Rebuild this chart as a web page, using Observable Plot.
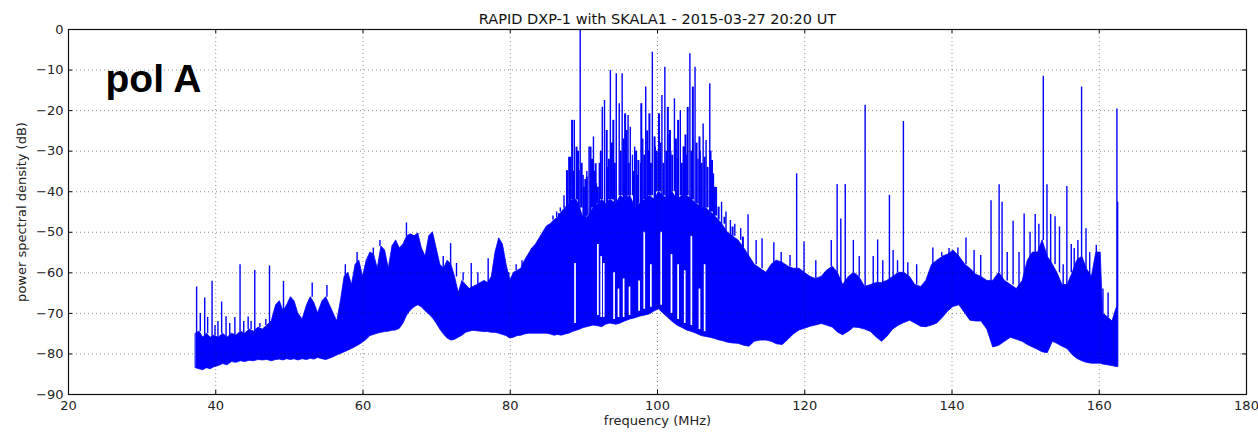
<!DOCTYPE html>
<html><head><meta charset="utf-8">
<script src="https://cdn.jsdelivr.net/npm/d3@7"></script>
<script src="https://cdn.jsdelivr.net/npm/@observablehq/plot@0.6"></script>
<style>body{margin:0;background:#fff;} #chart svg{display:block;}</style>
</head><body><div id="chart"></div>
<script>
const title = "RAPID DXP-1 with SKALA1 - 2015-03-27 20:20 UT";
const xLabel = "frequency (MHz)";
const yLabel = "power spectral density (dB)";
const panelLabel = "pol A";
const xTicks = [20, 40, 60, 80, 100, 120, 140, 160, 180];
const yTicks = [0, -10, -20, -30, -40, -50, -60, -70, -80, -90];

// dense noise band: frequency (MHz), bottom and top of the solid blue mass (dB)
const bandFreq = [37.3,37.8,38.3,38.8,39.3,39.8,40.4,41,41.6,42.2,42.8,43.4,44,44.6,45.2,45.8,46.4,47,47.6,48.2,48.7,49.2,49.7,50.2,50.7,51.2,51.8,52.4,52.9,53.4,53.9,54.5,55,55.5,56,56.5,57,57.5,58,58.5,59,59.5,60,60.5,61,61.5,62,62.5,63,63.5,64,64.5,65,65.5,66,66.5,67,67.5,68,68.5,69,69.5,70,70.5,71,71.5,72,72.5,73,73.5,74,74.5,75,75.5,76,76.5,77,77.5,78,78.5,79,79.5,80,80.5,81,81.5,82,82.5,83,83.5,84,84.5,85,85.5,86,86.5,87,87.5,88,88.5,89,89.5,90,90.7,91.3,92,92.5,93,93.6,94.4,95,95.6,96.3,97,97.6,98.4,99,99.6,100.2,100.8,101.4,102,102.7,103.4,104,104.7,105.3,106,106.6,107.2,107.8,108.3,108.8,109.5,110.2,111,111.8,112.5,113.2,114,114.8,115.5,116.2,117,117.8,118.5,119.3,120,120.8,121.5,122.3,123,123.8,124.5,125.2,126,126.7,127.4,128.2,129,129.8,130.5,131.2,132,132.8,133.5,134.3,135,135.8,136.5,137.3,138,138.8,139.5,140.2,141,141.8,142.5,143.3,144,144.8,145.6,146.4,147.2,148,148.8,149.6,150.3,151,151.7,152.3,153,153.7,154.3,155,155.7,156.4,157,157.7,158.3,159,159.6,160.2,160.5,161.2,161.8,162.3,162.6];
const bandLow = [-83.5,-83.8,-84,-83.5,-83.8,-83.3,-83,-82.5,-82.8,-82,-82.2,-81.8,-82,-81.7,-81.8,-81.5,-81.6,-81.5,-81.8,-81.5,-81.4,-81.6,-81.3,-81.5,-81.3,-81.6,-81.3,-81.5,-81.2,-81.4,-81,-81.3,-81.5,-81.2,-80.8,-80.4,-80,-79.6,-79.2,-78.8,-78.3,-77.8,-77.2,-76.5,-75.6,-75.3,-75,-74.8,-74.6,-74.5,-74.3,-74.2,-73.8,-72.5,-70.5,-69.3,-68.5,-68,-68.5,-69.5,-70.3,-71.2,-72.5,-74,-75.2,-76.2,-76.7,-76.5,-76,-75.5,-74.8,-74.5,-74.3,-74.4,-74.5,-74.6,-74.6,-74.8,-74.8,-75,-75.3,-75.6,-76.2,-76,-75.6,-75.5,-75.2,-75,-75,-75,-75,-75,-75,-75.2,-75.5,-75.3,-75.5,-75.2,-75,-74.6,-74.3,-74,-73.6,-73.3,-73,-73.2,-73.4,-72.8,-72.5,-72.8,-72.5,-72,-71.5,-71.2,-70.8,-70.5,-70.2,-69.5,-69,-70,-71,-72,-73,-73.6,-74.2,-74.6,-75,-75.6,-75.8,-76,-76.3,-76.6,-76.8,-77.2,-77.4,-77.5,-78,-78.2,-77,-76.7,-76.7,-77,-77.6,-77.8,-76.5,-75.2,-74.2,-73.8,-73.3,-73,-72.6,-73,-73.5,-74.7,-75.4,-74.5,-73.5,-73.6,-74,-74.6,-76,-77,-75.8,-74,-73,-72.4,-71.8,-72.5,-73.3,-73.4,-73,-72.5,-71,-69.5,-68.4,-68,-70,-71.8,-72,-72,-74,-78.4,-78,-77,-76,-76.5,-77,-77.8,-78.4,-79,-79.6,-79.8,-77,-77.5,-78.2,-78.8,-80.3,-81.2,-81.8,-82.2,-82.4,-82.4,-82.4,-82.6,-82.8,-83,-83.2,-83.2];
const bandHigh = [-75,-74.5,-76,-75,-76,-75.5,-76,-75,-76,-75,-75.5,-74.5,-75,-74,-74.5,-73.5,-74,-73,-72,-68,-67,-69.5,-68,-66,-67,-70,-71.5,-68,-66,-67.5,-70,-67,-66,-68,-70,-72,-67,-61,-60,-63,-58,-57,-61,-57,-55,-55.5,-59,-53.5,-54.5,-59,-53.5,-52,-54,-53,-51,-50.5,-51,-50.3,-54,-56,-51,-50,-54,-58,-59,-57,-58,-61,-65,-62,-63,-64,-63.5,-63,-62.5,-62,-62.5,-61,-55,-51.5,-53,-58,-62,-60,-59.5,-59,-57,-55.5,-54,-53,-51.5,-50,-48.5,-48,-47,-46.5,-45,-44,-43,-42,-42,-44,-47,-46,-44,-43,-42,-43,-42,-43,-41,-42,-41,-44,-43,-42,-41,-42,-40,-41,-42,-40,-42,-41,-41,-42,-43,-44,-44,-45,-46,-47,-48,-50,-51,-52,-54,-56,-58,-59,-60,-58,-57,-57.5,-58.5,-59,-59,-60,-61,-61.5,-61,-59.5,-58.5,-60,-63,-61,-60,-61,-63.5,-63,-62.5,-62.5,-62,-61,-60,-60,-61,-63,-63.5,-62,-58,-57,-56,-55.5,-54.5,-56,-58,-59,-60.5,-61,-62,-62,-60,-62,-63,-64,-62,-57,-55,-55,-52,-56,-58,-60,-63,-63,-60,-57,-56,-59,-61,-55,-55,-70,-71,-72,-69,-68];

// narrow interference lines: frequency (MHz) and peak level (dB)
const spikeFreq = [37.4,37.9,38.5,38.9,39.5,39.9,40.3,40.8,41.4,41.9,42.6,43.3,43.8,44.4,44.8,45.3,46,46.8,47.3,47.8,49.2,51.5,53.1,55.1,57.6,59.2,61.4,62.3,64,65.9,67.6,70.9,71.9,72.7,73.6,74.7,75.6,77,77.6,79.8,80.8,81.6,82.9,84,84.6,85.2,85.8,86.3,86.8,87.3,87.7,88.2,88.7,89.5,89.9,90.4,90.7,91.3,91.7,92.1,92.5,92.8,93.2,93.6,94,94.4,94.8,95.2,95.6,96,96.3,96.6,96.9,97.3,97.7,98,98.4,98.8,99.3,99.7,100.1,100.6,101,101.4,101.8,102.3,102.7,103.1,103.5,103.9,104.4,104.8,105.1,105.5,105.8,106.2,106.6,107.1,107.6,108,108.7,109.3,109.9,110.5,111.3,112.3,113.4,114.2,115.8,116.8,118,118.9,119.9,121.5,123.6,124.4,124.9,125.5,126.6,127.4,128.2,129.3,129.9,130.6,131.5,132,132.6,133.4,134,135.2,137.4,138.6,139.6,140.8,141.9,143,143.9,145.3,146.4,146.8,147.5,148.3,149.1,149.8,150.6,151.3,151.8,152.4,152.9,153.4,154,154.6,155.1,155.6,156.2,156.6,157.1,157.6,158.2,158.7,159.6,160.5,161.2,162.4,162.5];
const spikePeak = [-63.5,-70,-66.2,-71,-62.1,-73,-72,-67.2,-70.8,-72.5,-71,-58,-72,-70.9,-72,-59.4,-72.5,-71.5,-58.3,-70.5,-62.1,-70,-62.5,-63.1,-58,-55,-53.9,-52,-53.3,-47.7,-50.4,-56,-52.8,-57.7,-60,-57.7,-60,-56.5,-60,-60,-58,-57,-57.7,-52,-53.2,-50,-46,-45,-44,-41,-35,-31.5,-22.4,0,-36,-35,-29,-26.5,-38,-33,-19.2,-17.5,-34,-10.1,-30,-10.9,-18.3,-10.9,-33,-21.2,-24.1,-31,-29,-36,-33,-27,-14.2,-30,-5.6,-29,-32,-16.3,-9.3,-26,-30,-17.1,-32,-20,-29,-31,-6,-27,-9.3,-32,-30,-23.3,-27.4,-13.4,-35.6,-39,-42.6,-45,-47.1,-48,-49.1,-45.7,-52,-51.6,-52.6,-55,-55.7,-35.6,-52.4,-57,-52,-38.2,-46.7,-38.2,-52,-56,-18.7,-56,-51.9,-57,-40.9,-54.5,-57,-22.7,-57.5,-58,-53.9,-55,-54,-53.9,-51.4,-54.5,-55.7,-42.2,-38.3,-42.6,-55,-47.3,-55,-45.5,-50,-45.6,-48,-11.5,-38.3,-45.6,-46.2,-48.7,-58,-38.7,-53,-54,-52,-14.2,-49.1,-55,-53.2,-64,-65,-19.6,-42.6];

// crowded lines filling the 85-112 MHz region: frequency (MHz) and peak (dB)
const forestFreq = [85.7,86.1,86.6,87.3,87.7,88,88.4,88.6,89,89.2,89.3,89.7,90,90.2,90.4,90.9,91.1,91.5,91.6,91.9,92.3,93.1,93.4,93.8,94,94.2,95,95.4,95.6,95.8,96.1,96.8,97.1,97.4,97.8,98.2,98.6,98.9,99.1,99.6,99.9,100.2,100.4,100.8,101.2,101.4,101.7,102,102.5,102.8,103.3,103.6,103.8,104.1,104.6,104.8,105.3,105.7,106,106.4,106.8,107.2,107.4,107.8,108.3,109.1,110.2,111.6];
const forestPeak = [-50.4,-47,-45.4,-43.8,-34.8,-31.5,-22.4,-35,-29,-30,-34.8,-33,-38.9,-37,-36.4,-29,-32,-35,-33.1,-38.9,-30,-24.9,-32,-28,-22.4,-33,-30,-27,-20.8,-24.9,-33,-35,-30,-32.3,-18.3,-31,-25,-20.8,-33,-26.5,-30,-20.8,-28,-33,-30,-19.2,-24.9,-31,-27,-22.4,-33,-29,-26,-19.2,-30,-14.2,-28,-26.5,-33,-31.5,-34,-30,-32.3,-38.9,-43.8,-46.3,-48.7,-51.2];

// white gaps inside the crowded 88-107 MHz region: frequency, upper and lower end (dB)
const gapFreq = [88.8,91.9,92.35,92.7,94.1,94.7,95.4,96.2,97.5,98.2,99.1,100.5,101.9,102.8,103.7,104.6,105.7,106.4];
const gapTop = [-57.7,-53,-56,-57.7,-60,-64,-61.5,-63.5,-62,-50,-58,-50,-55.5,-58,-59.5,-51,-64,-58];
const gapBottom = [-72.5,-70.5,-71,-71,-71.5,-71,-71,-70.5,-69.5,-69,-68.5,-68,-70,-71.5,-72.5,-73,-74,-74.5];

const band = bandFreq.map((f, i) => ({f, lo: bandLow[i], hi: bandHigh[i]}));
function bandTopAt(f) {
  let best = band[0];
  for (const b of band) if (Math.abs(b.f - f) < Math.abs(best.f - f)) best = b;
  return best.hi;
}
const spikes = spikeFreq.map((f, i) => ({f, peak: spikePeak[i], base: bandTopAt(f)}));
const forest = forestFreq.map((f, i) => ({f, peak: forestPeak[i], base: bandTopAt(f)}));
const gaps = gapFreq.map((f, i) => ({f, top: gapTop[i], bottom: gapBottom[i]}));

const blue = "#0000ff";
const yMin = yTicks[yTicks.length - 1], yMax = yTicks[0];
const xMin = xTicks[0], xMax = xTicks[xTicks.length - 1];
const minus = d => d < 0 ? "\u2212" + (-d) : String(d);

const chart = Plot.plot({
  width: 1258,
  height: 435,
  marginLeft: 68,
  marginRight: 12,
  marginTop: 29,
  marginBottom: 41,
  style: {fontFamily: "DejaVu Sans, sans-serif", fontSize: "13px", color: "#222", background: "#fff"},
  x: {domain: [xMin, xMax]},
  y: {domain: [yMin, yMax]},
  marks: [
    Plot.areaY(band, {x: "f", y1: "lo", y2: "hi", fill: blue, stroke: blue, strokeWidth: 0.8}),
    Plot.ruleX(gaps, {x: "f", y1: "bottom", y2: "top", stroke: "#fff", strokeWidth: 1.7}),
    Plot.ruleX(forest, {x: "f", y1: "base", y2: "peak", stroke: blue, strokeWidth: 2}),
    Plot.ruleX(spikes, {x: "f", y1: "base", y2: "peak", stroke: blue, strokeWidth: 1.4}),
    Plot.gridX(xTicks.slice(1, -1), {stroke: "#000", strokeOpacity: 0.55, strokeDasharray: "1,3", strokeWidth: 0.8}),
    Plot.gridY(yTicks.slice(1, -1), {stroke: "#000", strokeOpacity: 0.55, strokeDasharray: "1,3", strokeWidth: 0.8}),
    Plot.ruleX(xTicks, {y1: yMin, y2: yMin + 1, stroke: "#000"}),
    Plot.ruleX(xTicks, {y1: yMax, y2: yMax - 1, stroke: "#000"}),
    Plot.ruleY(yTicks, {x1: xMin, x2: xMin + 0.55, stroke: "#000"}),
    Plot.ruleY(yTicks, {x1: xMax, x2: xMax - 0.55, stroke: "#000"}),
    Plot.frame({stroke: "#111", strokeWidth: 1.2}),
    Plot.axisX(xTicks, {tickSize: 0, tickPadding: 6, label: null, fontSize: 13}),
    Plot.axisY(yTicks, {tickSize: 0, tickPadding: 5, label: null, tickFormat: minus, fontSize: 13}),
    Plot.text([title], {frameAnchor: "top", dy: -16, fontSize: 14.5, fill: "#111"}),
    Plot.text([xLabel], {frameAnchor: "bottom", dy: 30, fontSize: 13, fill: "#222"}),
    Plot.text([yLabel], {frameAnchor: "left", textAnchor: "middle", dx: -47, rotate: -90, fontSize: 13, fill: "#222"}),
    Plot.text([panelLabel], {frameAnchor: "top-left", textAnchor: "start", lineAnchor: "top", dx: 37, dy: 35,
      fontSize: 39, fontWeight: "bold", fontFamily: "Liberation Sans, Arial, sans-serif", fill: "#000"})
  ]
});
document.getElementById("chart").appendChild(chart);
</script>
</body></html>
